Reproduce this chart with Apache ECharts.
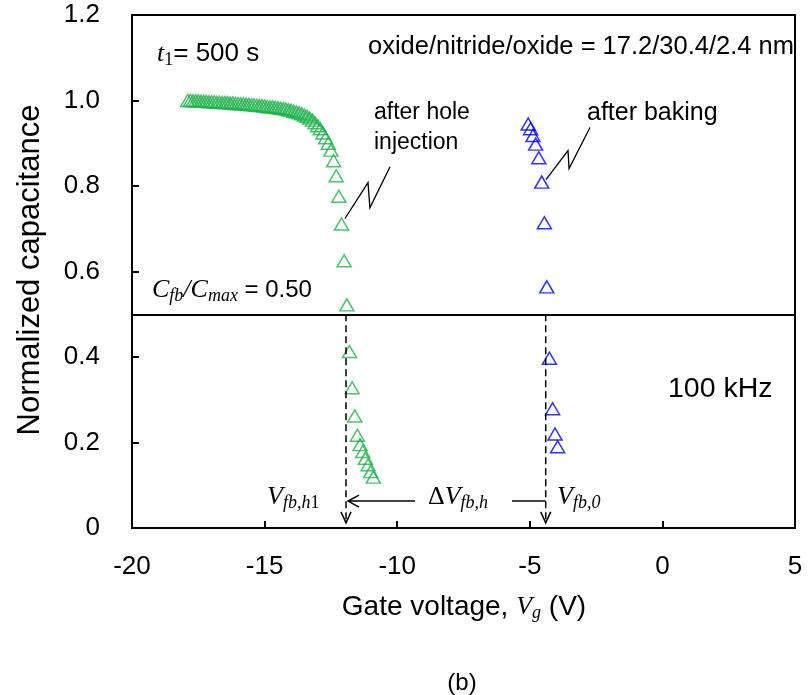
<!DOCTYPE html>
<html><head><meta charset="utf-8">
<script src="https://cdn.jsdelivr.net/npm/echarts@6/dist/echarts.min.js"></script>
<style>html,body{margin:0;padding:0;background:#fff}#c{width:810px;height:695px}</style>
</head><body><div id="c"></div>
<script>
// ---- data ----
const greenV = [-17.9,-17.8,-17.7,-17.6,-17.5,-17.4,-17.3,-17.2,-17.1,-17.0,
  -16.9,-16.8,-16.7,-16.6,-16.5,-16.4,-16.3,-16.2,-16.1,-16.0,
  -15.9,-15.8,-15.7,-15.6,-15.5,-15.4,-15.3,-15.2,-15.1,-15.0,
  -14.9,-14.8,-14.7,-14.6,-14.5,-14.4,-14.3,-14.2,-14.1,-14.0,
  -13.9,-13.8,-13.7,-13.6,-13.5,-13.4,-13.3,-13.2,-13.1,-13.0,
  -12.9,-12.8,-12.7,-12.6,-12.5,-12.4,-12.3,-12.2,-12.1,-12.0,
  -11.9,-11.8,-11.7,-11.6,-11.5,-11.4,-11.3,-11.2,-11.1,-11.0,-10.9];
const greenC = [1.000,1.000,0.999,0.999,0.999,0.998,0.998,0.998,0.997,0.997,
  0.997,0.996,0.996,0.995,0.995,0.995,0.994,0.994,0.993,0.993,
  0.992,0.992,0.991,0.991,0.990,0.990,0.989,0.988,0.988,0.987,
  0.986,0.985,0.985,0.984,0.983,0.982,0.981,0.980,0.978,0.977,
  0.975,0.973,0.971,0.969,0.966,0.963,0.959,0.954,0.948,0.941,
  0.934,0.924,0.913,0.900,0.884,0.859,0.824,0.776,0.711,0.625,
  0.522,0.413,0.328,0.262,0.217,0.195,0.179,0.163,0.148,0.132,0.119];
const blueV = [-5.06,-4.97,-4.88,-4.78,-4.66,-4.55,-4.45,-4.36,-4.26,-4.14,-4.05,-3.95];
const blueC = [0.945,0.934,0.918,0.898,0.866,0.809,0.714,0.564,0.397,0.279,0.220,0.190];
const xTicks = [-20,-15,-10,-5,0,5];
const yTicks = [0,0.2,0.4,0.6,0.8,1.0,1.2];
const cRatio = 0.5;      // Cfb/Cmax
const vfbH1 = -11.93;    // flat-band voltage after hole injection
const vfb0 = -4.40;      // flat-band voltage after baking
const arrowC = 0.063;    // level of the delta-V arrow
const greenLeader = [[-11.97,0.724],[-11.10,0.808],[-11.03,0.749],[-10.27,0.845]];
const blueLeader = [[-4.39,0.815],[-3.56,0.883],[-3.52,0.841],[-2.73,0.937]];

const GREEN = '#1db34a', BLUE = '#0000ff';
const SANS = 'Liberation Sans', SERIF = 'Liberation Serif';

const chart = echarts.init(document.getElementById('c'), null, {renderer:'canvas'});
const zip = (a,b) => a.map((v,i)=>[v,b[i]]);

chart.setOption({
  animation:false,
  backgroundColor:'#fff',
  grid:{left:132,right:15,top:15,bottom:167,show:true,borderColor:'#000',borderWidth:2,backgroundColor:'transparent'},
  xAxis:{type:'value',min:xTicks[0],max:xTicks[xTicks.length-1],interval:5,
    axisLine:{show:true,onZero:false,lineStyle:{color:'#000',width:2}},
    axisTick:{show:true,inside:true,length:7,lineStyle:{color:'#000',width:2}},
    axisLabel:{color:'#000',fontFamily:SANS,fontSize:26,margin:26},
    splitLine:{show:false}},
  yAxis:{type:'value',min:yTicks[0],max:yTicks[yTicks.length-1],interval:0.2,
    axisLine:{show:true,onZero:false,lineStyle:{color:'#000',width:2}},
    axisTick:{show:true,inside:true,length:7,lineStyle:{color:'#000',width:2}},
    axisLabel:{color:'#000',fontFamily:SANS,fontSize:26,margin:32,
      formatter:v=> v===0 ? '0' : v.toFixed(1)},
    splitLine:{show:false}},
  series:[
    {type:'scatter',data:zip(greenV,greenC),symbol:'triangle',symbolSize:[14,12],
      itemStyle:{color:'rgba(0,0,0,0)',borderColor:GREEN,borderWidth:1.5},
      markLine:{silent:true,symbol:'none',label:{show:false},
        lineStyle:{color:'#000',type:'solid',width:2},data:[{yAxis:cRatio}]}},
    {type:'scatter',data:zip(blueV,blueC),symbol:'triangle',symbolSize:[14,12],
      itemStyle:{color:'rgba(0,0,0,0)',borderColor:BLUE,borderWidth:1.5}}
  ]
});

const P = (v,c) => chart.convertToPixel({gridIndex:0},[v,c]);
const g = [];
function line(a,b,dash){g.push({type:'line',shape:{x1:a[0],y1:a[1],x2:b[0],y2:b[1]},
  style:{stroke:'#000',lineWidth:1.5,lineDash:dash||null},z:10});}
function poly(pts,w){g.push({type:'polyline',shape:{points:pts},style:{stroke:'#000',lineWidth:w||1.5,fill:null},z:10});}
[vfbH1,vfb0].forEach(v=>{
  const top=P(v,cRatio), tip=P(v,0.012);
  line(top,tip,[7,4]);
  poly([[tip[0]-5,tip[1]-11],tip,[tip[0]+5,tip[1]-11]]);
});
const aTip=P(vfbH1,arrowC); aTip[0]+=2;
line(P(-9.33,arrowC),aTip);
poly([[aTip[0]+11,aTip[1]-6],aTip,[aTip[0]+11,aTip[1]+6]]);
line(P(-5.67,arrowC),P(vfb0,arrowC));
poly(greenLeader.map(p=>P(p[0],p[1])),1.3);
poly(blueLeader.map(p=>P(p[0],p[1])),1.3);

function txt(x,y,text,rich,align){g.push({type:'text',x:x,y:y,z:20,
  style:{text:text,rich:rich,fill:'#000',align:align||'left',verticalAlign:'middle'}});}
function mk(ns){return {n:{fontFamily:SANS,fontSize:ns,lineHeight:30,verticalAlign:'middle'},
  i:{fontFamily:SERIF,fontStyle:'italic',fontSize:26,lineHeight:30,verticalAlign:'middle'},
  r:{fontFamily:SERIF,fontSize:26,lineHeight:30,verticalAlign:'middle'},
  si:{fontFamily:SERIF,fontStyle:'italic',fontSize:18,lineHeight:18,verticalAlign:'bottom'},
  sr:{fontFamily:SERIF,fontSize:18,lineHeight:18,verticalAlign:'bottom'}};}
txt(157,54,'{i|t}{sr|1}{n|= 500 s}',mk(26));
txt(368,47,'{n|oxide/nitride/oxide = 17.2/30.4/2.4 nm}',mk(25.5));
txt(374,113,'{n|after hole}',mk(23));
txt(374,143,'{n|injection}',mk(23));
txt(587,113,'{n|after baking}',mk(25));
txt(152,290,'{i|C}{si|fb}{i|/C}{si|max}{n| = 0.50}',mk(24));
txt(668,389,'{n|100 kHz}',mk(28.5));
txt(267,497,'{i|V}{si|fb,h}{sr|1}',mk(24));
txt(428,497,'{r|Δ}{i|V}{si|fb,h}',mk(24));
txt(557,497,'{i|V}{si|fb,0}',mk(24));
txt(464,607,'{n|Gate voltage, }{i|V}{si|g}{n| (V)}',mk(28),'center');
txt(462,683,'{n|(b)}',mk(24),'center');
g.push({type:'text',x:30,y:270,rotation:Math.PI/2,z:20,
  style:{text:'Normalized capacitance',fontFamily:SANS,fontSize:31,fill:'#000',align:'center',verticalAlign:'middle'}});
chart.setOption({graphic:{elements:g}});
</script></body></html>
